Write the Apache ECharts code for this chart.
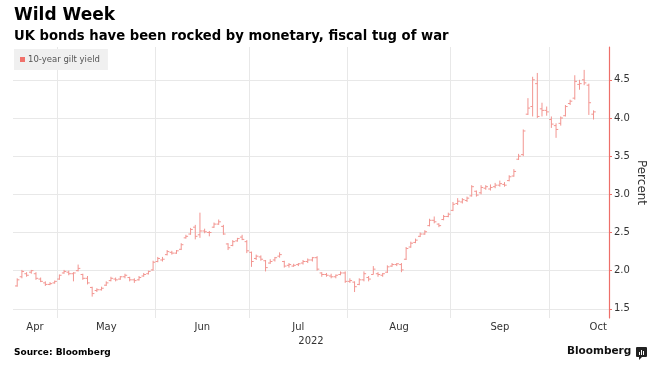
<!DOCTYPE html>
<html>
<head>
<meta charset="utf-8">
<script src="https://cdn.jsdelivr.net/npm/echarts@6/dist/echarts.min.js"></script>
<style>
html,body{margin:0;padding:0;background:#fff;}
#chart{width:667px;height:378px;}
</style>
</head>
<body>
<div id="chart"></div>
<script>
// ---- Data: UK 10-year gilt yield, daily OHLC (trading days) ----
const dates = [
'2022-04-19','2022-04-20','2022-04-21','2022-04-22','2022-04-25','2022-04-26','2022-04-27','2022-04-28','2022-04-29',
'2022-05-03','2022-05-04','2022-05-05','2022-05-06','2022-05-09','2022-05-10','2022-05-11','2022-05-12','2022-05-13',
'2022-05-16','2022-05-17','2022-05-18','2022-05-19','2022-05-20','2022-05-23','2022-05-24','2022-05-25','2022-05-26',
'2022-05-27','2022-05-30','2022-05-31',
'2022-06-01','2022-06-06','2022-06-07','2022-06-08','2022-06-09','2022-06-10','2022-06-13','2022-06-14','2022-06-15',
'2022-06-16','2022-06-17','2022-06-20','2022-06-21','2022-06-22','2022-06-23','2022-06-24','2022-06-27','2022-06-28',
'2022-06-29','2022-06-30',
'2022-07-01','2022-07-04','2022-07-05','2022-07-06','2022-07-07','2022-07-08','2022-07-11','2022-07-12','2022-07-13',
'2022-07-14','2022-07-15','2022-07-18','2022-07-19','2022-07-20','2022-07-21','2022-07-22','2022-07-25','2022-07-26',
'2022-07-27','2022-07-28','2022-07-29',
'2022-08-01','2022-08-02','2022-08-03','2022-08-04','2022-08-05','2022-08-08','2022-08-09','2022-08-10','2022-08-11',
'2022-08-12','2022-08-15','2022-08-16','2022-08-17','2022-08-18','2022-08-19','2022-08-22','2022-08-23','2022-08-24',
'2022-08-25','2022-08-26','2022-08-30','2022-08-31',
'2022-09-01','2022-09-02','2022-09-05','2022-09-06','2022-09-07','2022-09-08','2022-09-09','2022-09-12','2022-09-13',
'2022-09-14','2022-09-15','2022-09-16','2022-09-20','2022-09-21','2022-09-22','2022-09-23','2022-09-26','2022-09-27',
'2022-09-28','2022-09-29','2022-09-30',
'2022-10-03','2022-10-04','2022-10-05','2022-10-06','2022-10-07','2022-10-10','2022-10-11','2022-10-12','2022-10-13',
'2022-10-14'
];
const openVals = [
1.80,1.92,1.96,1.98,1.96,1.89,1.84,1.82,1.84,1.89,
1.97,1.98,1.96,2.00,1.95,1.90,1.78,1.74,1.75,1.81,
1.87,1.89,1.89,1.92,1.91,1.88,1.88,1.93,1.96,2.01,
2.12,2.14,2.21,2.24,2.23,2.28,2.43,2.48,2.57,2.47,
2.52,2.50,2.57,2.61,2.58,2.35,2.33,2.39,2.44,2.38,
2.24,2.16,2.18,2.13,2.10,2.14,2.19,2.12,2.07,2.06,
2.08,2.10,2.12,2.14,2.17,1.97,1.95,1.93,1.92,1.95,
1.97,1.86,1.85,1.82,1.88,1.91,1.95,1.96,1.94,1.98,
2.06,2.08,2.08,2.15,2.31,2.37,2.45,2.48,2.59,2.66,
2.61,2.67,2.71,2.79,2.88,2.90,2.92,2.98,3.04,3.02,
3.08,3.07,3.10,3.12,3.13,3.18,3.24,3.46,3.52,4.05,
4.15,4.45,4.12,4.10,3.98,3.90,3.93,4.03,4.19,4.26,
4.44,4.50,4.43,4.05
];
const highVals = [
1.90,2.01,1.98,2.01,1.98,1.91,1.86,1.85,1.87,1.95,
2.01,2.00,1.98,2.08,1.96,1.93,1.79,1.77,1.79,1.86,
1.92,1.91,1.93,1.96,1.92,1.90,1.93,1.97,2.00,2.13,
2.18,2.18,2.27,2.26,2.27,2.36,2.47,2.56,2.60,2.76,
2.55,2.52,2.63,2.67,2.60,2.36,2.40,2.43,2.47,2.40,
2.25,2.21,2.20,2.14,2.15,2.18,2.24,2.13,2.10,2.09,
2.10,2.14,2.16,2.18,2.19,1.98,1.97,1.96,1.95,1.99,
1.99,1.90,1.86,1.90,1.99,1.93,2.06,1.98,1.97,2.07,
2.10,2.10,2.10,2.31,2.38,2.42,2.50,2.53,2.68,2.71,
2.62,2.73,2.76,2.90,2.95,2.95,2.97,3.12,3.05,3.12,
3.12,3.13,3.15,3.18,3.16,3.25,3.33,3.53,3.85,4.26,
4.54,4.59,4.20,4.15,4.02,3.93,4.02,4.17,4.24,4.56,
4.50,4.63,4.45,4.10
];
const lowVals = [
1.79,1.90,1.92,1.96,1.88,1.85,1.80,1.81,1.83,1.88,
1.96,1.94,1.86,1.99,1.88,1.82,1.66,1.72,1.74,1.80,
1.86,1.86,1.88,1.90,1.86,1.84,1.87,1.92,1.95,2.00,
2.11,2.12,2.20,2.21,2.22,2.27,2.42,2.47,2.41,2.43,
2.49,2.45,2.56,2.60,2.47,2.27,2.32,2.38,2.40,2.23,
2.05,2.14,2.13,1.99,2.09,2.12,2.17,2.04,2.04,2.05,
2.06,2.08,2.10,2.12,2.00,1.92,1.92,1.90,1.90,1.94,
1.84,1.84,1.72,1.81,1.86,1.86,1.95,1.92,1.92,1.97,
2.05,2.06,1.98,2.14,2.30,2.36,2.44,2.47,2.58,2.62,
2.57,2.66,2.70,2.78,2.86,2.88,2.90,2.97,2.97,3.00,
3.06,3.05,3.08,3.10,3.10,3.17,3.23,3.45,3.50,4.04,
4.02,4.00,4.02,4.03,3.87,3.74,3.90,4.02,4.17,4.24,
4.37,4.43,4.04,3.98
];
const closeVals = [
1.88,1.99,1.94,2.00,1.90,1.86,1.82,1.83,1.86,1.94,
1.99,1.96,1.97,2.03,1.90,1.84,1.70,1.75,1.77,1.84,
1.90,1.88,1.92,1.94,1.88,1.87,1.91,1.95,1.99,2.11,
2.16,2.15,2.25,2.23,2.26,2.34,2.45,2.54,2.45,2.52,
2.51,2.50,2.61,2.64,2.48,2.30,2.38,2.42,2.41,2.26,
2.12,2.19,2.15,2.04,2.12,2.17,2.21,2.06,2.08,2.07,
2.09,2.12,2.14,2.17,2.02,1.95,1.94,1.92,1.94,1.97,
1.86,1.87,1.79,1.88,1.96,1.89,2.02,1.95,1.96,2.05,
2.08,2.09,2.01,2.29,2.36,2.40,2.48,2.51,2.66,2.64,
2.59,2.71,2.74,2.87,2.91,2.93,2.95,3.10,2.99,3.09,
3.10,3.09,3.12,3.14,3.12,3.23,3.30,3.50,3.83,4.13,
4.50,4.02,4.10,4.08,3.92,3.85,4.00,4.15,4.22,4.48,
4.45,4.46,4.20,4.08
];
const monthLabels = ['Apr','May','Jun','Jul','Aug','Sep','Oct'];
const yTicks = [1.5, 2.0, 2.5, 3.0, 3.5, 4.0, 4.5];
const seriesName = '10-year gilt yield';

// ---- Layout / style ----
const FONT = 'DejaVu Sans';
const RED = '#f0716b';
const BAR = '#f29590';
const AXIS_RED = '#ee6f69';
const X_MIN = -0.9, X_MAX = 126.3;

// month boundaries (between last trading day of a month and first of next)
const boundaries = [];
for (let i = 1; i < dates.length; i++) {
  if (dates[i].slice(5,7) !== dates[i-1].slice(5,7)) boundaries.push(i - 0.5);
}
const centers = [];
centers.push((X_MIN + boundaries[0]) / 2);
for (let k = 0; k < boundaries.length - 1; k++) centers.push((boundaries[k] + boundaries[k+1]) / 2);
centers.push(boundaries[boundaries.length - 1] + 10.5);

const ohlc = dates.map((d, i) => [i, openVals[i], closeVals[i], lowVals[i], highVals[i]]);

const chart = echarts.init(document.getElementById('chart'), null, {renderer: 'canvas'});
chart.setOption({
  animation: false,
  textStyle: {fontFamily: FONT},
  title: [
    {text: 'Wild Week', left: 14, top: 7, padding: 0,
     textStyle: {fontFamily: FONT, fontWeight: 'bold', fontSize: 17, color: '#000'}},
    {text: 'UK bonds have been rocked by monetary, fiscal tug of war', left: 14, top: 30, padding: 0,
     textStyle: {fontFamily: FONT, fontWeight: 'bold', fontSize: 13.2, color: '#000'}}
  ],
  legend: {
    left: 14, top: 49, padding: [6, 8, 6, 6],
    backgroundColor: '#f0f0f0',
    itemWidth: 5, itemHeight: 5, itemGap: 10,
    textStyle: {fontFamily: FONT, fontSize: 8.5, color: '#555', padding: [0, 0, 0, -2]},
    data: [{name: seriesName, icon: 'rect', itemStyle: {color: RED}}]
  },
  grid: {left: 13, right: 58, top: 47, bottom: 60},
  xAxis: {
    type: 'value', min: X_MIN, max: X_MAX,
    name: '2022', nameLocation: 'middle', nameGap: 15,
    nameTextStyle: {fontFamily: FONT, fontSize: 10, color: '#333'},
    axisLine: {show: false, onZero: false},
    axisTick: {show: false, customValues: boundaries},
    axisLabel: {
      customValues: centers, fontFamily: FONT, fontSize: 10, color: '#333', margin: 4,
      formatter: function (v) {
        let best = 0, bd = Infinity;
        centers.forEach((c, k) => { const d = Math.abs(c - v); if (d < bd) { bd = d; best = k; } });
        return monthLabels[best];
      }
    },
    splitLine: {show: true, lineStyle: {color: '#e8e8e8', width: 1}}
  },
  yAxis: {
    type: 'value', position: 'right', min: 1.38, max: 4.93,
    name: 'Percent', nameLocation: 'middle', nameRotate: -90, nameGap: 26, nameMoveOverlap: false,
    nameTextStyle: {fontFamily: FONT, fontSize: 12, color: '#333'},
    axisLine: {show: true, onZero: false, lineStyle: {color: AXIS_RED, width: 1.2}},
    axisTick: {show: true, inside: false, customValues: yTicks, length: 3, lineStyle: {color: AXIS_RED, width: 1}},
    axisLabel: {customValues: yTicks, fontFamily: FONT, fontSize: 10, color: '#333', margin: 5,
      formatter: v => Number(v).toFixed(1)},
    splitLine: {show: true, lineStyle: {color: '#e8e8e8', width: 1}}
  },
  series: [{
    name: seriesName,
    type: 'custom',
    itemStyle: {color: RED},
    encode: {x: 0, y: [1, 2, 3, 4]},
    data: ohlc,
    renderItem: function (params, api) {
      const x = api.value(0);
      const o = api.coord([x, api.value(1)]);
      const c = api.coord([x, api.value(2)]);
      const l = api.coord([x, api.value(3)]);
      const h = api.coord([x, api.value(4)]);
      const w = 2.2;
      const st = {stroke: BAR, lineWidth: 1};
      return {type: 'group', children: [
        {type: 'line', shape: {x1: h[0], y1: h[1], x2: l[0], y2: l[1]}, style: st},
        {type: 'line', shape: {x1: o[0] - w, y1: o[1], x2: o[0], y2: o[1]}, style: st},
        {type: 'line', shape: {x1: c[0], y1: c[1], x2: c[0] + w, y2: c[1]}, style: st}
      ]};
    }
  }],
  graphic: [
    {type: 'text', left: 14, top: 348,
     style: {text: 'Source: Bloomberg', fontFamily: FONT, fontWeight: 'bold', fontSize: 9, fill: '#000'}},
    {type: 'text', left: 567, top: 346,
     style: {text: 'Bloomberg', fontFamily: FONT, fontWeight: 'bold', fontSize: 10.5, fill: '#111'}},
    {type: 'group', left: 636, top: 347, children: [
      {type: 'rect', shape: {x: 0, y: 0, width: 11, height: 10, r: 1}, style: {fill: '#222'}},
      {type: 'polygon', shape: {points: [[3, 10], [6, 10], [3, 13]]}, style: {fill: '#222'}},
      {type: 'rect', shape: {x: 3, y: 5, width: 1, height: 3}, style: {fill: '#fff'}},
      {type: 'rect', shape: {x: 5, y: 3, width: 1, height: 5}, style: {fill: '#fff'}},
      {type: 'rect', shape: {x: 7, y: 4, width: 1, height: 4}, style: {fill: '#fff'}}
    ]}
  ]
});
</script>
</body>
</html>
